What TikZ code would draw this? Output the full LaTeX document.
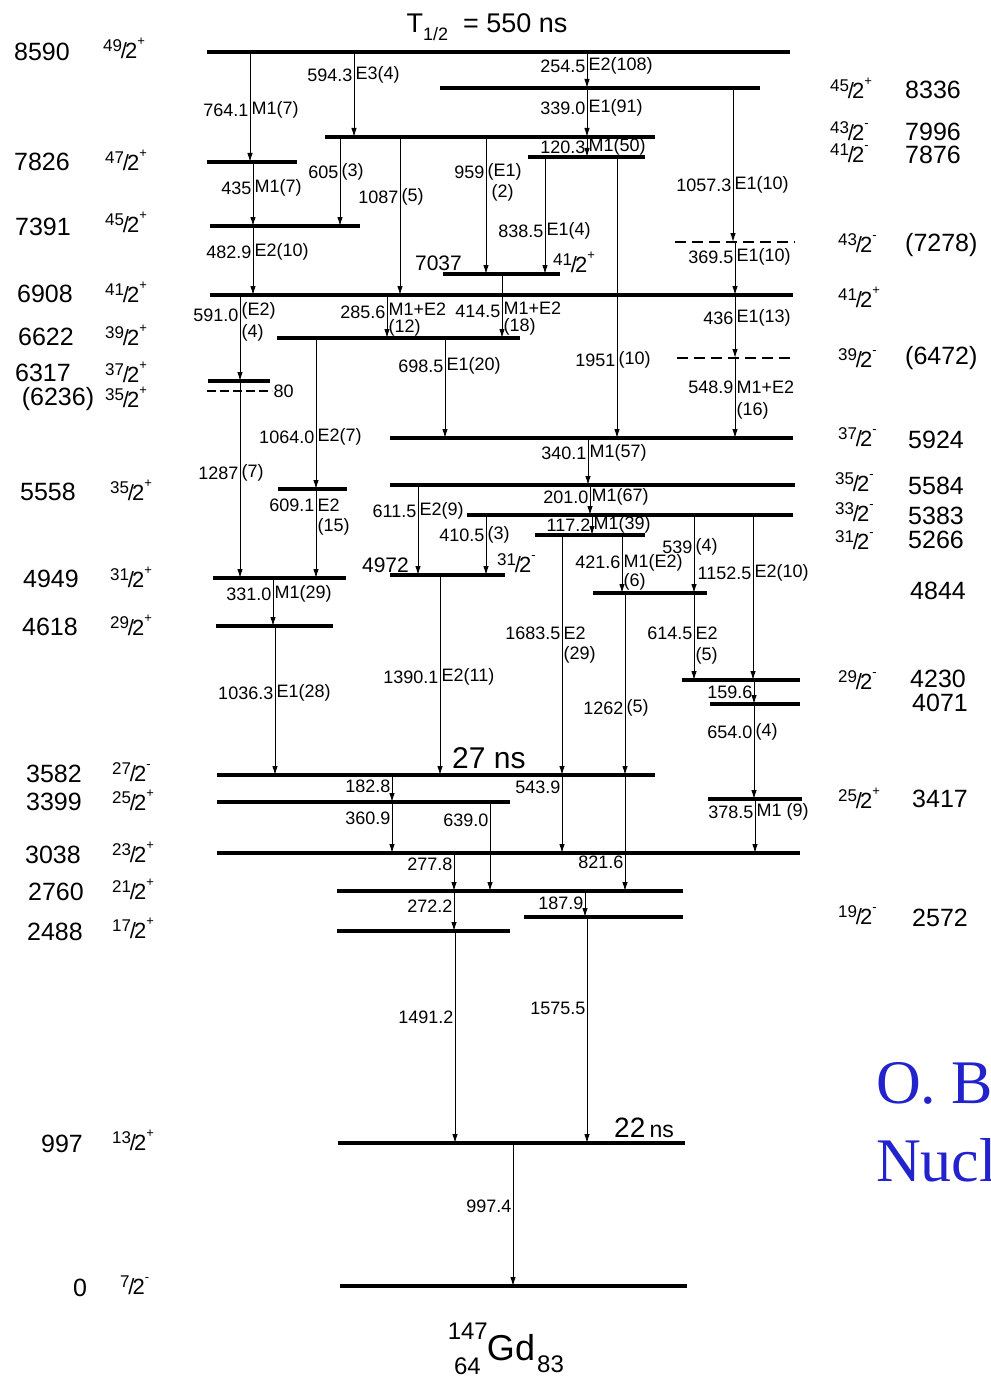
\documentclass[tikz,border=0pt]{standalone}
\usepackage{fontspec}
\setmainfont{Liberation Sans}
\newfontfamily\refserif{Liberation Serif}
\usepackage{xcolor}
\usetikzlibrary{arrows.meta}
\definecolor{refblue}{RGB}{35,35,205}
\newcommand\spin[2]{\raisebox{.32em}{\fontsize{17}{17}\selectfont #1}\kern-.06em/\kern-.08em2\raisebox{.6em}{\fontsize{13}{13}\selectfont #2}}

\tikzset{
  lev/.style={line width=3.2pt},
  dlev/.style={line width=2.6pt, dash pattern=on 11pt off 6pt},
  gam/.style={line width=1pt, -{Latex[length=9pt,width=5.5pt]}},
  tl/.style={font=\fontsize{18}{19}\selectfont, inner sep=1.5pt},
  en/.style={font=\fontsize{25}{26}\selectfont, inner sep=0pt},
  sp/.style={font=\fontsize{22}{22}\selectfont, inner sep=0pt, anchor=west},
}

\begin{document}
\begin{tikzpicture}[x=1pt, y=-1pt]
    \useasboundingbox (0,0) rectangle (990,1383);
    \clip (0,0) rectangle (990,1383);

    % levels (left end of each line)
    \coordinate (e8590) at (207,52);
    \coordinate (e8336) at (440,88);
    \coordinate (e7996) at (325,137);
    \coordinate (e7876) at (528,157);
    \coordinate (e7826) at (207,162);
    \coordinate (e7391) at (210,226);
    \coordinate (e7278) at (675,242);
    \coordinate (e7037) at (443,274);
    \coordinate (e6908) at (210,295);
    \coordinate (e6622) at (277,338);
    \coordinate (e6472) at (677,358);
    \coordinate (e6317) at (208,381);
    \coordinate (e6236) at (207,391);
    \coordinate (e5924) at (390,438);
    \coordinate (e5584) at (390,485);
    \coordinate (e5558) at (278,489);
    \coordinate (e5383) at (467,515);
    \coordinate (e5266) at (535,535);
    \coordinate (e4972) at (390,575);
    \coordinate (e4949) at (213,578);
    \coordinate (e4844) at (593,593);
    \coordinate (e4618) at (216,626);
    \coordinate (e4230) at (682,680);
    \coordinate (e4071) at (710,704);
    \coordinate (e3582) at (217,775);
    \coordinate (e3417) at (708,799);
    \coordinate (e3399) at (217,802);
    \coordinate (e3038) at (217,853);
    \coordinate (e2760) at (337,891);
    \coordinate (e2572) at (524,917);
    \coordinate (e2488) at (337,931);
    \coordinate (e997) at (338,1143);
    \coordinate (e0) at (340,1286);

    \draw[lev] (e8590) -- ++(583,0);
    \draw[lev] (e8336) -- ++(320,0);
    \draw[lev] (e7996) -- ++(330,0);
    \draw[lev] (e7876) -- ++(117,0);
    \draw[lev] (e7826) -- ++(90,0);
    \draw[lev] (e7391) -- ++(150,0);
    \draw[dlev] (e7278) -- ++(120,0);
    \draw[lev] (e7037) -- ++(117,0);
    \draw[lev] (e6908) -- ++(583,0);
    \draw[lev] (e6622) -- ++(243,0);
    \draw[dlev] (e6472) -- ++(118,0);
    \draw[lev] (e6317) -- ++(62,0);
    \draw[dlev, dash pattern=on 9pt off 4pt] (e6236) -- ++(65,0);
    \draw[lev] (e5924) -- ++(403,0);
    \draw[lev] (e5584) -- ++(405,0);
    \draw[lev] (e5558) -- ++(69,0);
    \draw[lev] (e5383) -- ++(326,0);
    \draw[lev] (e5266) -- ++(110,0);
    \draw[lev] (e4972) -- ++(115,0);
    \draw[lev] (e4949) -- ++(133,0);
    \draw[lev] (e4844) -- ++(114,0);
    \draw[lev] (e4618) -- ++(117,0);
    \draw[lev] (e4230) -- ++(118,0);
    \draw[lev] (e4071) -- ++(90,0);
    \draw[lev] (e3582) -- ++(438,0);
    \draw[lev] (e3417) -- ++(94,0);
    \draw[lev] (e3399) -- ++(293,0);
    \draw[lev] (e3038) -- ++(583,0);
    \draw[lev] (e2760) -- ++(346,0);
    \draw[lev] (e2572) -- ++(159,0);
    \draw[lev] (e2488) -- ++(173,0);
    \draw[lev] (e997) -- ++(347,0);
    \draw[lev] (e0) -- ++(347,0);

    % transitions
    \draw[gam] (250,0 |- e8590) -- (250,0 |- e7826);
    \node[tl,left] (g764a) at (250,110) {764.1};
    \node[tl,right] (g764b) at (250,110) {M1(7)};
    \draw[gam] (354,0 |- e8590) -- (354,0 |- e7996);
    \node[tl,left] (g594a) at (354,75) {594.3};
    \node[tl,right] (g594b) at (354,75) {E3(4)};
    \draw[gam] (587,0 |- e8590) -- (587,0 |- e8336);
    \node[tl,left] (g254a) at (587,66) {254.5};
    \node[tl,right] (g254b) at (587,66) {E2(108)};
    \draw[gam] (587,0 |- e8336) -- (587,0 |- e7996);
    \node[tl,left] (g339a) at (587,108) {339.0};
    \node[tl,right] (g339b) at (587,108) {E1(91)};
    \draw[gam] (587,0 |- e7996) -- (587,0 |- e7876);
    \node[tl,left] (g120a) at (587,147) {120.3};
    \node[tl,right] (g120b) at (587,147) {M1(50)};
    \draw[gam] (733,0 |- e8336) -- (733,0 |- e7278);
    \node[tl,left] (g1057a) at (733,185) {1057.3};
    \node[tl,right] (g1057b) at (733,185) {E1(10)};
    \draw[gam] (253,0 |- e7826) -- (253,0 |- e7391);
    \node[tl,left] (g435a) at (253,188) {435};
    \node[tl,right] (g435b) at (253,188) {M1(7)};
    \draw[gam] (340,0 |- e7996) -- (340,0 |- e7391);
    \node[tl,left] (g605a) at (340,172) {605};
    \node[tl,right] (g605b) at (340,172) {(3)};
    \draw[gam] (400,0 |- e7996) -- (400,0 |- e6908);
    \node[tl,left] (g1087a) at (400,197) {1087};
    \node[tl,right] (g1087b) at (400,197) {(5)};
    \draw[gam] (486,0 |- e7996) -- (486,0 |- e7037);
    \node[tl,left] (g959a) at (486,172) {959};
    \node[tl,right] (g959b) at (486,172) {(E1)};
    \node[tl,right] (g959c) at (490,193) {(2)};
    \draw[gam] (545,0 |- e7876) -- (545,0 |- e7037);
    \node[tl,left] (g838a) at (545,231) {838.5};
    \node[tl,right] (g838b) at (545,231) {E1(4)};
    \draw[gam] (617,0 |- e7876) -- (617,0 |- e5924);
    \node[tl,left] (g1951a) at (617,360) {1951};
    \node[tl,right] (g1951b) at (617,360) {(10)};
    \draw[gam] (735,0 |- e7278) -- (735,0 |- e6908);
    \node[tl,left] (g369a) at (735,257) {369.5};
    \node[tl,right] (g369b) at (735,257) {E1(10)};
    \draw[gam] (253,0 |- e7391) -- (253,0 |- e6908);
    \node[tl,left] (g482a) at (253,252) {482.9};
    \node[tl,right] (g482b) at (253,252) {E2(10)};
    \draw[gam] (502,0 |- e7037) -- (502,0 |- e6622);
    \node[tl,left] (g414a) at (502,311) {414.5};
    \node[tl,right] (g414b) at (502,308) {M1+E2};
    \node[tl,right] (g414c) at (502,327) {(18)};
    \draw[gam] (387,0 |- e6908) -- (387,0 |- e6622);
    \node[tl,left] (g285a) at (387,312) {285.6};
    \node[tl,right] (g285b) at (387,309) {M1+E2};
    \node[tl,right] (g285c) at (387,328) {(12)};
    \draw[gam] (240,0 |- e6908) -- (240,0 |- e6317);
    \node[tl,left] (g591a) at (240,315) {591.0};
    \node[tl,right] (g591b) at (240,311) {(E2)};
    \node[tl,right] (g591c) at (240,333) {(4)};
    \draw[gam] (735,0 |- e6908) -- (735,0 |- e6472);
    \node[tl,left] (g436a) at (735,318) {436};
    \node[tl,right] (g436b) at (735,318) {E1(13)};
    \draw[gam] (735,0 |- e6472) -- (735,0 |- e5924);
    \node[tl,left] (g548a) at (735,387) {548.9};
    \node[tl,right] (g548b) at (735,387) {M1+E2};
    \node[tl,right] (g548c) at (735,411) {(16)};
    \draw[gam] (445,0 |- e6622) -- (445,0 |- e5924);
    \node[tl,left] (g698a) at (445,366) {698.5};
    \node[tl,right] (g698b) at (445,366) {E1(20)};
    \draw[gam] (316,0 |- e6622) -- (316,0 |- e5558);
    \node[tl,left] (g1064a) at (316,437) {1064.0};
    \node[tl,right] (g1064b) at (316,437) {E2(7)};
    \draw[line width=1pt] (240,0 |- e6317) -- (240,0 |- e6236);
    \node[tl,right] (g80) at (272,391) {80};
    \draw[gam] (240,0 |- e6236) -- (240,0 |- e4949);
    \node[tl,left] (g1287a) at (240,473) {1287};
    \node[tl,right] (g1287b) at (240,473) {(7)};
    \draw[gam] (316,0 |- e5558) -- (316,0 |- e4949);
    \node[tl,left] (g609a) at (316,505) {609.1};
    \node[tl,right] (g609b) at (316,505) {E2};
    \node[tl,right] (g609c) at (316,527) {(15)};
    \draw[gam] (588,0 |- e5924) -- (588,0 |- e5584);
    \node[tl,left] (g340a) at (588,453) {340.1};
    \node[tl,right] (g340b) at (588,453) {M1(57)};
    \draw[gam] (590,0 |- e5584) -- (590,0 |- e5383);
    \node[tl,left] (g201a) at (590,497) {201.0};
    \node[tl,right] (g201b) at (590,497) {M1(67)};
    \draw[gam] (592,0 |- e5383) -- (592,0 |- e5266);
    \node[tl,left] (g117a) at (592,525) {117.2};
    \node[tl,right] (g117b) at (592,525) {M1(39)};
    \draw[gam] (418,0 |- e5584) -- (418,0 |- e4972);
    \node[tl,left] (g611a) at (418,511) {611.5};
    \node[tl,right] (g611b) at (418,511) {E2(9)};
    \draw[gam] (486,0 |- e5383) -- (486,0 |- e4972);
    \node[tl,left] (g410a) at (486,535) {410.5};
    \node[tl,right] (g410b) at (486,535) {(3)};
    \draw[gam] (622,0 |- e5266) -- (622,0 |- e4844);
    \node[tl,left] (g421a) at (622,562) {421.6};
    \node[tl,right] (g421b) at (622,563) {M1(E2)};
    \node[tl,right] (g421c) at (622,582) {(6)};
    \draw[gam] (694,0 |- e5383) -- (694,0 |- e4844);
    \node[tl,left] (g539a) at (694,547) {539};
    \node[tl,right] (g539b) at (694,547) {(4)};
    \draw[gam] (753,0 |- e5383) -- (753,0 |- e4230);
    \node[tl,left] (g1152a) at (753,573) {1152.5};
    \node[tl,right] (g1152b) at (753,573) {E2(10)};
    \draw[gam] (562,0 |- e5266) -- (562,0 |- e3582);
    \node[tl,left] (g1683a) at (562,633) {1683.5};
    \node[tl,right] (g1683b) at (562,633) {E2};
    \node[tl,right] (g1683c) at (562,655) {(29)};
    \draw[gam] (694,0 |- e4844) -- (694,0 |- e4230);
    \node[tl,left] (g614a) at (694,633) {614.5};
    \node[tl,right] (g614b) at (694,633) {E2};
    \node[tl,right] (g614c) at (694,656) {(5)};
    \draw[gam] (625,0 |- e4844) -- (625,0 |- e3582);
    \node[tl,left] (g1262a) at (625,708) {1262};
    \node[tl,right] (g1262b) at (625,708) {(5)};
    \draw[gam] (440,0 |- e4972) -- (440,0 |- e3582);
    \node[tl,left] (g1390a) at (440,677) {1390.1};
    \node[tl,right] (g1390b) at (440,677) {E2(11)};
    \draw[gam] (273,0 |- e4949) -- (273,0 |- e4618);
    \node[tl,left] (g331a) at (273,594) {331.0};
    \node[tl,right] (g331b) at (273,594) {M1(29)};
    \draw[gam] (275,0 |- e4618) -- (275,0 |- e3582);
    \node[tl,left] (g1036a) at (275,693) {1036.3};
    \node[tl,right] (g1036b) at (275,693) {E1(28)};
    \draw[gam] (754,0 |- e4230) -- (754,0 |- e4071);
    \node[tl,left] (g159a) at (754,692) {159.6};
    \draw[gam] (754,0 |- e4071) -- (754,0 |- e3417);
    \node[tl,left] (g654a) at (754,732) {654.0};
    \node[tl,right] (g654b) at (754,732) {(4)};
    \draw[gam] (755,0 |- e3417) -- (755,0 |- e3038);
    \node[tl,left] (g378a) at (755,812) {378.5};
    \node[tl,right] (g378b) at (755,812) {M1 (9)};
    \draw[gam] (562,0 |- e3582) -- (562,0 |- e3038);
    \node[tl,left] (g543a) at (562,787) {543.9};
    \draw[gam] (625,0 |- e3582) -- (625,0 |- e2760);
    \node[tl,left] (g821a) at (625,862) {821.6};
    \draw[gam] (392,0 |- e3582) -- (392,0 |- e3399);
    \node[tl,left] (g182a) at (392,786) {182.8};
    \draw[gam] (392,0 |- e3399) -- (392,0 |- e3038);
    \node[tl,left] (g360a) at (392,818) {360.9};
    \draw[gam] (490,0 |- e3399) -- (490,0 |- e2760);
    \node[tl,left] (g639a) at (490,820) {639.0};
    \draw[gam] (454,0 |- e3038) -- (454,0 |- e2760);
    \node[tl,left] (g277a) at (454,864) {277.8};
    \draw[gam] (454,0 |- e2760) -- (454,0 |- e2488);
    \node[tl,left] (g272a) at (454,906) {272.2};
    \draw[gam] (585,0 |- e2760) -- (585,0 |- e2572);
    \node[tl,left] (g187a) at (585,903) {187.9};
    \draw[gam] (455,0 |- e2488) -- (455,0 |- e997);
    \node[tl,left] (g1491a) at (455,1017) {1491.2};
    \draw[gam] (587,0 |- e2572) -- (587,0 |- e997);
    \node[tl,left] (g1575a) at (587,1008) {1575.5};
    \draw[gam] (513,0 |- e997) -- (513,0 |- e0);
    \node[tl,left] (g997a) at (513,1206) {997.4};

    % level labels inside the scheme
    \node[en, font=\fontsize{21}{22}\selectfont, anchor=east] (n7037) at (462,263) {7037};
    \node[sp] (s7037) at (553,262) {\spin{41}{+}};
    \node[en, font=\fontsize{21}{22}\selectfont, anchor=east] (n4972) at (409,565) {4972};
    \node[sp] (s4972) at (497,563) {\spin{31}{-}};

    % left labels
    \node[en] (l8590) at (42,52) {8590};
    \node[en] (l7826) at (42,162) {7826};
    \node[en] (l7391) at (43,227) {7391};
    \node[en] (l6908) at (45,294) {6908};
    \node[en] (l6622) at (46,337) {6622};
    \node[en] (l6317) at (43,373) {6317};
    \node[en] (l6236) at (58,399) {(6236)};
    \node[en] (l5558) at (48,492) {5558};
    \node[en] (l4949) at (51,579) {4949};
    \node[en] (l4618) at (50,627) {4618};
    \node[en] (l3582) at (54,774) {3582};
    \node[en] (l3399) at (54,802) {3399};
    \node[en] (l3038) at (53,855) {3038};
    \node[en] (l2760) at (56,892) {2760};
    \node[en] (l2488) at (55,932) {2488};
    \node[en] (l997) at (62,1144) {997};
    \node[en] (l0) at (80,1288) {0};

    \node[sp] (j8590) at (103,48) {\spin{49}{+}};
    \node[sp] (j7826) at (105,160) {\spin{47}{+}};
    \node[sp] (j7391) at (105,222) {\spin{45}{+}};
    \node[sp] (j6908) at (105,292) {\spin{41}{+}};
    \node[sp] (j6622) at (105,335) {\spin{39}{+}};
    \node[sp] (j6317) at (105,372) {\spin{37}{+}};
    \node[sp] (j6236) at (105,397) {\spin{35}{+}};
    \node[sp] (j5558) at (110,490) {\spin{35}{+}};
    \node[sp] (j4949) at (110,577) {\spin{31}{+}};
    \node[sp] (j4618) at (110,625) {\spin{29}{+}};
    \node[sp] (j3582) at (112,772) {\spin{27}{-}};
    \node[sp] (j3399) at (112,800) {\spin{25}{+}};
    \node[sp] (j3038) at (112,852) {\spin{23}{+}};
    \node[sp] (j2760) at (112,889) {\spin{21}{+}};
    \node[sp] (j2488) at (112,928) {\spin{17}{+}};
    \node[sp] (j997) at (112,1140) {\spin{13}{+}};
    \node[sp] (j0) at (120,1285) {\spin{7}{-}};

    % right labels
    \node[sp] (k8336) at (830,88) {\spin{45}{+}};
    \node[sp] (k7996) at (830,131) {\spin{43}{-}};
    \node[sp] (k7876) at (830,153) {\spin{41}{-}};
    \node[sp] (k7278) at (838,243) {\spin{43}{-}};
    \node[sp] (k6908) at (838,297) {\spin{41}{+}};
    \node[sp] (k6472) at (838,358) {\spin{39}{-}};
    \node[sp] (k5924) at (838,437) {\spin{37}{-}};
    \node[sp] (k5584) at (835,482) {\spin{35}{-}};
    \node[sp] (k5383) at (835,512) {\spin{33}{-}};
    \node[sp] (k5266) at (835,540) {\spin{31}{-}};
    \node[sp] (k4230) at (838,680) {\spin{29}{-}};
    \node[sp] (k3417) at (838,798) {\spin{25}{+}};
    \node[sp] (k2572) at (838,915) {\spin{19}{-}};

    \node[en, anchor=west] (r8336) at (905,90) {8336};
    \node[en, anchor=west] (r7996) at (905,132) {7996};
    \node[en, anchor=west] (r7876) at (905,155) {7876};
    \node[en, anchor=west] (r7278) at (905,245) {(7278)};
    \node[en, anchor=west] (r6472) at (905,358) {(6472)};
    \node[en, anchor=west] (r5924) at (908,440) {5924};
    \node[en, anchor=west] (r5584) at (908,486) {5584};
    \node[en, anchor=west] (r5383) at (908,516) {5383};
    \node[en, anchor=west] (r5266) at (908,540) {5266};
    \node[en, anchor=west] (r4844) at (910,591) {4844};
    \node[en, anchor=west] (r4230) at (910,679) {4230};
    \node[en, anchor=west] (r4071) at (912,703) {4071};
    \node[en, anchor=west] (r3417) at (912,799) {3417};
    \node[en, anchor=west] (r2572) at (912,918) {2572};

    % half-lives and nucleus
    \node[en, font=\fontsize{27}{28}\selectfont] (thalf) at (487,27)
        {T\raisebox{-.3em}{\fontsize{18}{18}\selectfont 1/2}\ \ =\ 550 ns};
    \node[en, font=\fontsize{30}{30}\selectfont, anchor=west] (t27) at (452,758) {27 ns};
    \node[en, anchor=west] (t22) at (614,1128)
        {{\fontsize{28}{28}\selectfont 22}\,{\fontsize{23}{23}\selectfont ns}};
    \node[en, font=\fontsize{36}{36}\selectfont] (gd) at (511,1348) {Gd};
    \node[en, font=\fontsize{24}{24}\selectfont, anchor=east] (a147) at (488,1331) {147};
    \node[en, font=\fontsize{24}{24}\selectfont, anchor=east] (z64) at (481,1366) {64};
    \node[en, font=\fontsize{24}{24}\selectfont, anchor=west] (n83) at (537,1364) {83};

    % citation, cut at the right edge
    \node[anchor=west, inner sep=0pt, text=refblue, font=\refserif\fontsize{62}{62}\selectfont] (cit1) at (876,1083) {O. B};
    \node[anchor=west, inner sep=0pt, text=refblue, font=\refserif\fontsize{62}{62}\selectfont] (cit2) at (876,1160) {Nucl};
\end{tikzpicture}
\end{document}
